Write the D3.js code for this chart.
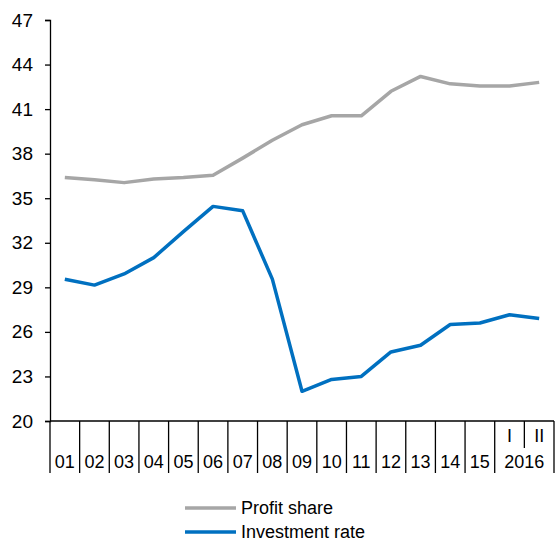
<!DOCTYPE html>
<head>
  <meta charset="utf-8">
  <script src="https://d3js.org/d3.v7.min.js"></script>
  <style>
    body { margin:0; background:#fff; }
    text { font-family: "Liberation Sans", Arial, sans-serif; fill:#000; }
  </style>
</head>
<body>
  <div class="line-chart"></div>
  <script>
    // categories: years 2001-2015, then 2016 half-years
    const categories = ['01','02','03','04','05','06','07','08','09','10','11','12','13','14','15','2016 I','2016 II'];
    const xLabels = ['01','02','03','04','05','06','07','08','09','10','11','12','13','14','15','I','II'];
    const profitShare = [36.4, 36.25, 36.05, 36.3, 36.4, 36.55, 37.7, 38.9, 39.95, 40.55, 40.55, 42.2, 43.2, 42.7, 42.55, 42.55, 42.8];
    const investmentRate = [29.55, 29.15, 29.9, 31.0, 32.75, 34.45, 34.15, 29.55, 22.0, 22.8, 23.0, 24.65, 25.1, 26.5, 26.6, 27.15, 26.9];
    const yTicks = [20, 23, 26, 29, 32, 35, 38, 41, 44, 47];
    const seriesNames = ['Profit share', 'Investment rate'];
    const colors = ['#A6A6A6', '#0070C0'];

    const width = 556, height = 541;
    const plot = { left: 50, right: 554, top: 20, bottom: 421 };

    const svg = d3.select('.line-chart')
      .append('svg')
        .attr('width', width)
        .attr('height', height);

    const x = d3.scaleBand()
      .domain(categories)
      .range([plot.left, plot.right]);

    const y = d3.scaleLinear()
      .domain([20, 47])
      .range([plot.bottom, plot.top]);

    // y axis
    const yAxis = svg.append('g')
      .attr('transform', `translate(${plot.left},0)`)
      .call(d3.axisLeft(y).tickValues(yTicks).tickSize(5).tickPadding(12));
    yAxis.select('.domain').attr('stroke', '#000').attr('stroke-width', 1.3);
    yAxis.selectAll('.tick line').attr('stroke', '#000').attr('stroke-width', 1.3);
    yAxis.selectAll('text').style('font-size', '19px').attr('fill', '#000');

    // x axis line
    svg.append('line')
      .attr('x1', plot.left).attr('x2', plot.right)
      .attr('y1', plot.bottom).attr('y2', plot.bottom)
      .attr('stroke', '#000').attr('stroke-width', 1.3);

    // category separators
    const bounds = categories.map(c => x(c)).concat([plot.right]);
    svg.selectAll('.sep')
      .data(bounds)
      .enter()
      .append('line')
      .attr('class', 'sep')
      .attr('x1', d => d).attr('x2', d => d)
      .attr('y1', plot.bottom)
      .attr('y2', (d, i) => i === 16 ? plot.bottom + 27 : plot.bottom + 52)
      .attr('stroke', '#000').attr('stroke-width', 1.3);

    // year labels
    svg.selectAll('.xlab')
      .data(categories.slice(0, 15))
      .enter()
      .append('text')
      .attr('class', 'xlab')
      .attr('x', d => x(d) + x.bandwidth() / 2)
      .attr('y', 468)
      .attr('text-anchor', 'middle')
      .style('font-size', '18px')
      .text((d, i) => xLabels[i]);

    // half-year labels
    svg.selectAll('.hlab')
      .data(categories.slice(15))
      .enter()
      .append('text')
      .attr('class', 'hlab')
      .attr('x', d => x(d) + x.bandwidth() / 2)
      .attr('y', 442)
      .attr('text-anchor', 'middle')
      .style('font-size', '18px')
      .text((d, i) => xLabels[15 + i]);

    svg.append('text')
      .attr('x', x('2016 II'))
      .attr('y', 468)
      .attr('text-anchor', 'middle')
      .style('font-size', '18px')
      .text('2016');

    // lines
    const line = d3.line()
      .x((d, i) => x(categories[i]) + x.bandwidth() / 2)
      .y(d => y(d));

    [profitShare, investmentRate].forEach((data, i) => {
      svg.append('path')
        .attr('d', line(data))
        .attr('fill', 'none')
        .attr('stroke', colors[i])
        .attr('stroke-width', 3.5)
        .attr('stroke-linejoin', 'round');
    });

    // legend
    const legend = svg.selectAll('.legend')
      .data(seriesNames)
      .enter()
      .append('g')
      .attr('class', 'legend')
      .attr('transform', (d, i) => `translate(185,${508 + i * 24})`);

    legend.append('line')
      .attr('x1', 0).attr('x2', 51)
      .attr('stroke', (d, i) => colors[i])
      .attr('stroke-width', 3.5);

    legend.append('text')
      .attr('x', 56)
      .attr('dy', '0.35em')
      .style('font-size', '18px')
      .text(d => d);
  </script>
</body>
</html>
